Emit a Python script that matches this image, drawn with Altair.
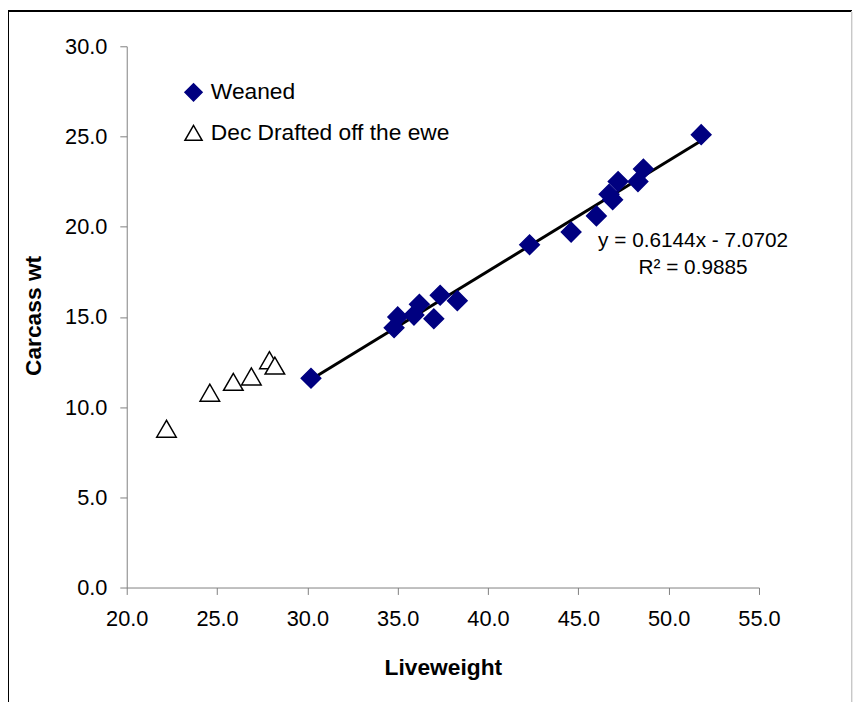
import altair as alt
import pandas as pd

# Weaned lambs
weaned_lw = [30.2, 34.8, 35.0, 35.9, 36.2, 37.0, 37.35, 38.3, 42.3, 44.6, 46.0, 46.7, 46.9, 47.2, 48.3, 48.6, 51.8]
weaned_cw = [11.6, 14.4, 15.0, 15.1, 15.7, 14.9, 16.2, 15.9, 19.0, 19.7, 20.6, 21.8, 21.5, 22.5, 22.5, 23.2, 25.1]

# Dec drafted off the ewe
drafted_lw = [22.2, 24.6, 25.9, 26.9, 27.9, 28.2]
drafted_cw = [8.8, 10.8, 11.4, 11.7, 12.6, 12.3]

groups = ["Weaned", "Dec Drafted off the ewe"]

eq_text = ["y = 0.6144x - 7.0702", "R² = 0.9885"]
eq_x = [51.35, 51.35]
eq_y = [19.2, 17.7]

x_ticks = [20, 25, 30, 35, 40, 45, 50, 55]
y_ticks = [0, 5, 10, 15, 20, 25, 30]

FONT = "Liberation Sans"

pts = pd.DataFrame({
    "Liveweight": weaned_lw + drafted_lw,
    "Carcass": weaned_cw + drafted_cw,
    "group": [groups[0]] * len(weaned_lw) + [groups[1]] * len(drafted_lw),
})
eq = pd.DataFrame({"text": eq_text, "x": eq_x, "y": eq_y})

W, H = 639, 547

xscale = alt.Scale(domain=[20, 55], nice=False, zero=False)
yscale = alt.Scale(domain=[0, 30], nice=False)

common_axis = dict(grid=False, labelFlush=False, labelOverlap=False,
                   labelFont=FONT, titleFont=FONT, labelFontSize=22, titleFontSize=23,
                   titleFontWeight="bold", labelColor="black", titleColor="black",
                   domainColor="#808080", tickColor="#808080", tickSize=7)

xaxis = alt.Axis(values=x_ticks, format=".1f", title="Liveweight",
                 titleY=81, titleBaseline="middle", labelPadding=14, **common_axis)
yaxis = alt.Axis(values=y_ticks, format=".1f", title="Carcass wt",
                 titleX=-94, titleY=272, titleBaseline="middle", titleAlign="center",
                 titleAngle=-90, labelPadding=13, **common_axis)

base = alt.Chart(pts)

points = base.mark_point(size=390, opacity=1, strokeWidth=1.5).encode(
    x=alt.X("Liveweight:Q", scale=xscale, axis=xaxis),
    y=alt.Y("Carcass:Q", scale=yscale, axis=yaxis),
    shape=alt.Shape("group:N", scale=alt.Scale(domain=groups, range=["diamond", "triangle-up"]),
                    legend=alt.Legend(title=None, orient="none", legendX=56, legendY=35,
                                      labelFontSize=23, labelFont=FONT, labelColor="black",
                                      labelLimit=600, symbolSize=300,
                                      symbolStrokeWidth=1.5, rowPadding=17, padding=0,
                                      labelOffset=6)),
    fill=alt.Fill("group:N", scale=alt.Scale(domain=groups, range=["#000080", "white"]), legend=None),
    stroke=alt.Stroke("group:N", scale=alt.Scale(domain=groups, range=["#000080", "black"]), legend=None),
)

trend = base.transform_filter(alt.datum.group == "Weaned").transform_regression(
    "Liveweight", "Carcass"
).mark_line(color="black", strokeWidth=3).encode(
    x=alt.X("Liveweight:Q", scale=xscale),
    y=alt.Y("Carcass:Q", scale=yscale),
)

eq_marks = alt.Chart(eq).mark_text(font=FONT, fontSize=21, align="center", baseline="middle", color="black").encode(
    x=alt.X("x:Q", scale=xscale),
    y=alt.Y("y:Q", scale=yscale),
    text="text:N",
)

frame_left = alt.Chart(pts).mark_rule(color="black", strokeWidth=1).encode(
    x=alt.value(-119.5), y=alt.value(-35.5), y2=alt.value(H + 120))
frame_top = alt.Chart(pts).mark_rule(color="black", strokeWidth=1).encode(
    x=alt.value(-119.5), x2=alt.value(W + 93.5), y=alt.value(-35.5))
frame_right = alt.Chart(pts).mark_rule(color="#c8c8c8", strokeWidth=1).encode(
    x=alt.value(W + 93.5), y=alt.value(-35.5), y2=alt.value(H + 120))

chart = alt.layer(trend, points, eq_marks, frame_left, frame_top, frame_right).properties(
    width=W, height=H,
    background="white",
    autosize=alt.AutoSizeParams(type="none"),
    padding={"left": 120, "top": 35, "right": 95, "bottom": 112},
).configure_view(stroke=None)

chart.save("out.html", embed_options={"renderer": "svg", "actions": False})
